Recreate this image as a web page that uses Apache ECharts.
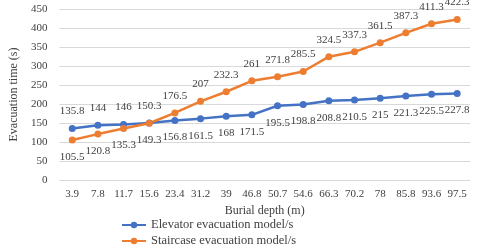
<!DOCTYPE html>
<html><head><meta charset="utf-8">
<script src="https://cdn.jsdelivr.net/npm/echarts@6/dist/echarts.min.js"></script>
<style>html,body{margin:0;padding:0;background:#fff}#c{width:480px;height:252px}</style>
</head><body><div id="c"></div>
<script>
var categories = ['3.9','7.8','11.7','15.6','23.4','31.2','39','46.8','50.7','54.6','66.3','70.2','78','85.8','93.6','97.5'];
var elevator = [135.8,144,146,150.3,156.8,161.5,168,171.5,195.5,198.8,208.8,210.5,215,221.3,225.5,227.8];
var staircase = [105.5,120.8,135.3,149.3,176.5,207,232.3,261,271.8,285.5,324.5,337.3,361.5,387.3,411.3,422.3];
var elevatorLabelPos = ['top','top','top','top','bottom','bottom','bottom','bottom','bottom','bottom','bottom','bottom','bottom','bottom','bottom','bottom'];
var staircaseLabelPos = ['bottom','bottom','bottom','bottom','top','top','top','top','top','top','top','top','top','top','top','top'];
var yTicks = {min:0, max:450, interval:50};

var font = 'Liberation Serif';
function mk(vals, pos){
  return vals.map(function(v,i){return {value:v, label:{position:pos[i]}};});
}
var chart = echarts.init(document.getElementById('c'));
chart.setOption({
  animation:false,
  textStyle:{fontFamily:font},
  grid:{left:50, right:10, top:9, bottom:72},
  legend:{orient:'vertical', left:121, top:218, padding:0, itemWidth:24, itemHeight:8, itemGap:2,
    textStyle:{fontFamily:font, fontSize:12.5, color:'#404040', lineHeight:14}},
  xAxis:{type:'category', data:categories, boundaryGap:true,
    name:'Burial depth (m)', nameLocation:'middle', nameGap:22,
    nameTextStyle:{fontFamily:font, fontSize:12, color:'#404040'},
    axisLine:{show:false}, axisTick:{show:false},
    axisLabel:{fontFamily:font, fontSize:11, color:'#404040', margin:9}},
  yAxis:{type:'value', min:yTicks.min, max:yTicks.max, interval:yTicks.interval,
    name:'Evacuation time (s)', nameLocation:'middle', nameGap:30,
    nameTextStyle:{fontFamily:font, fontSize:12, color:'#404040'},
    axisLabel:{fontFamily:font, fontSize:11, color:'#404040', margin:12},
    splitLine:{lineStyle:{color:'#d9d9d9'}}},
  series:[
    {name:'Elevator evacuation model/s', type:'line', data:mk(elevator, elevatorLabelPos),
     symbol:'circle', symbolSize:7, color:'#4472C4', lineStyle:{width:2.5},
     label:{show:true, fontFamily:font, fontSize:11, color:'#404040', distance:8}},
    {name:'Staircase evacuation model/s', type:'line', data:mk(staircase, staircaseLabelPos),
     symbol:'circle', symbolSize:7, color:'#ED7D31', lineStyle:{width:2.5},
     label:{show:true, fontFamily:font, fontSize:11, color:'#404040', distance:8}}
  ]
});
</script></body></html>
